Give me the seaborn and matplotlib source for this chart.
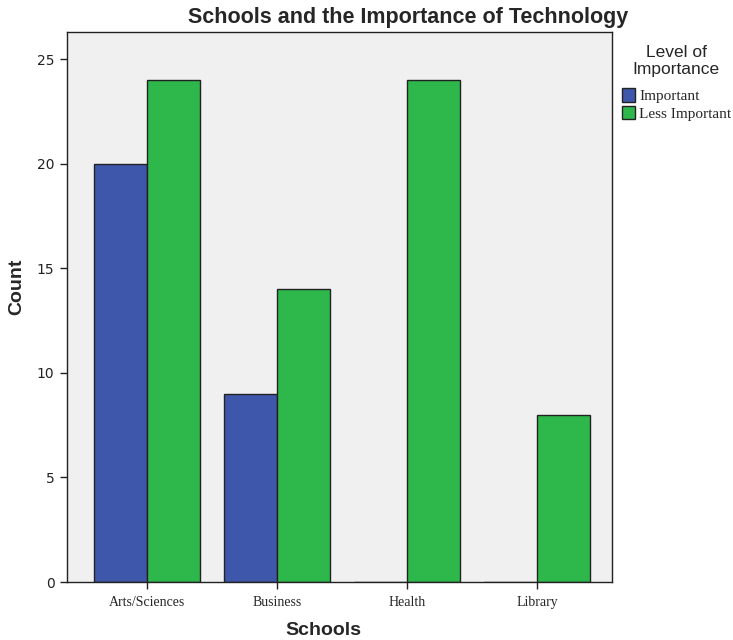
import numpy as np
import pandas as pd
import matplotlib
matplotlib.use("Agg")
import matplotlib.pyplot as plt
import seaborn as sns
from matplotlib.patches import Patch

# ===============================
# DATA
# ===============================
schools = ["Arts/Sciences", "Business", "Health", "Library"]
important = [20, 9, 0, 0]
less_important = [24, 14, 24, 8]
levels = ["Important", "Less Important"]

df = pd.DataFrame({
    "Schools": schools * 2,
    "Level": [levels[0]] * 4 + [levels[1]] * 4,
    "Count": important + less_important,
})

palette = {"Important": "#3E57AB", "Less Important": "#2EB84B"}

# ===============================
# PLOT
# ===============================
sns.set_style("white")
plt.rcParams["font.family"] = ["Liberation Sans", "DejaVu Sans"]

fig = plt.figure(figsize=(7.33, 6.4), dpi=100)
ax = fig.add_axes([0.0914, 0.0906, 0.7436, 0.8594])
ax.set_facecolor("#F0F0F0")

sns.barplot(data=df, x="Schools", y="Count", hue="Level", order=schools,
            hue_order=levels, palette=palette, width=0.815, saturation=1,
            edgecolor="#222222", linewidth=1.0, ax=ax, legend=False)

ax.set_xlim(-0.615, 3.577)
ax.set_ylim(0, 26.3)
ax.set_yticks([0, 5, 10, 15, 20, 25])
ax.set_yticklabels(["0", "5", "10", "15", "20", "25"], family="DejaVu Sans",
                   fontsize=10, color="#222222")
ax.set_xticks(range(len(schools)))
ax.set_xticklabels(schools, family="Liberation Serif", fontsize=10)
ax.tick_params(axis="both", length=5, width=1, color="#222222",
               bottom=True, left=True, pad=4)
ax.tick_params(axis="x", pad=5)

for s in ax.spines.values():
    s.set_color("#222222")
    s.set_linewidth(1.0)

ax.set_xlabel("Schools", fontsize=14, fontweight="bold")
ax.xaxis.set_label_coords((323 - 67) / 545, -0.0727)
ax.set_ylabel("Count", fontsize=14, fontweight="bold")
ax.yaxis.set_label_coords(-0.077, 0.536)
fig.text(0.557, 0.973, "Schools and the Importance of Technology",
         fontsize=15.5, fontweight="bold", ha="center", va="center")

# legend
handles = [Patch(facecolor=palette[l], edgecolor="#222222", label=l) for l in levels]
leg = fig.legend(handles=handles, title="Level of\nImportance",
                 loc="upper left", bbox_to_anchor=(0.848, 0.93),
                 frameon=False, prop={"family": "Liberation Serif", "size": 11},
                 handlelength=0.85, handleheight=1.0, handletextpad=0.3,
                 labelspacing=0.15, borderaxespad=0.0, borderpad=0.0)
leg.get_title().set_fontsize(12.5)
leg.get_title().set_ha("center")
leg._legend_box.sep = 8

fig.savefig("out.png", dpi=100)
